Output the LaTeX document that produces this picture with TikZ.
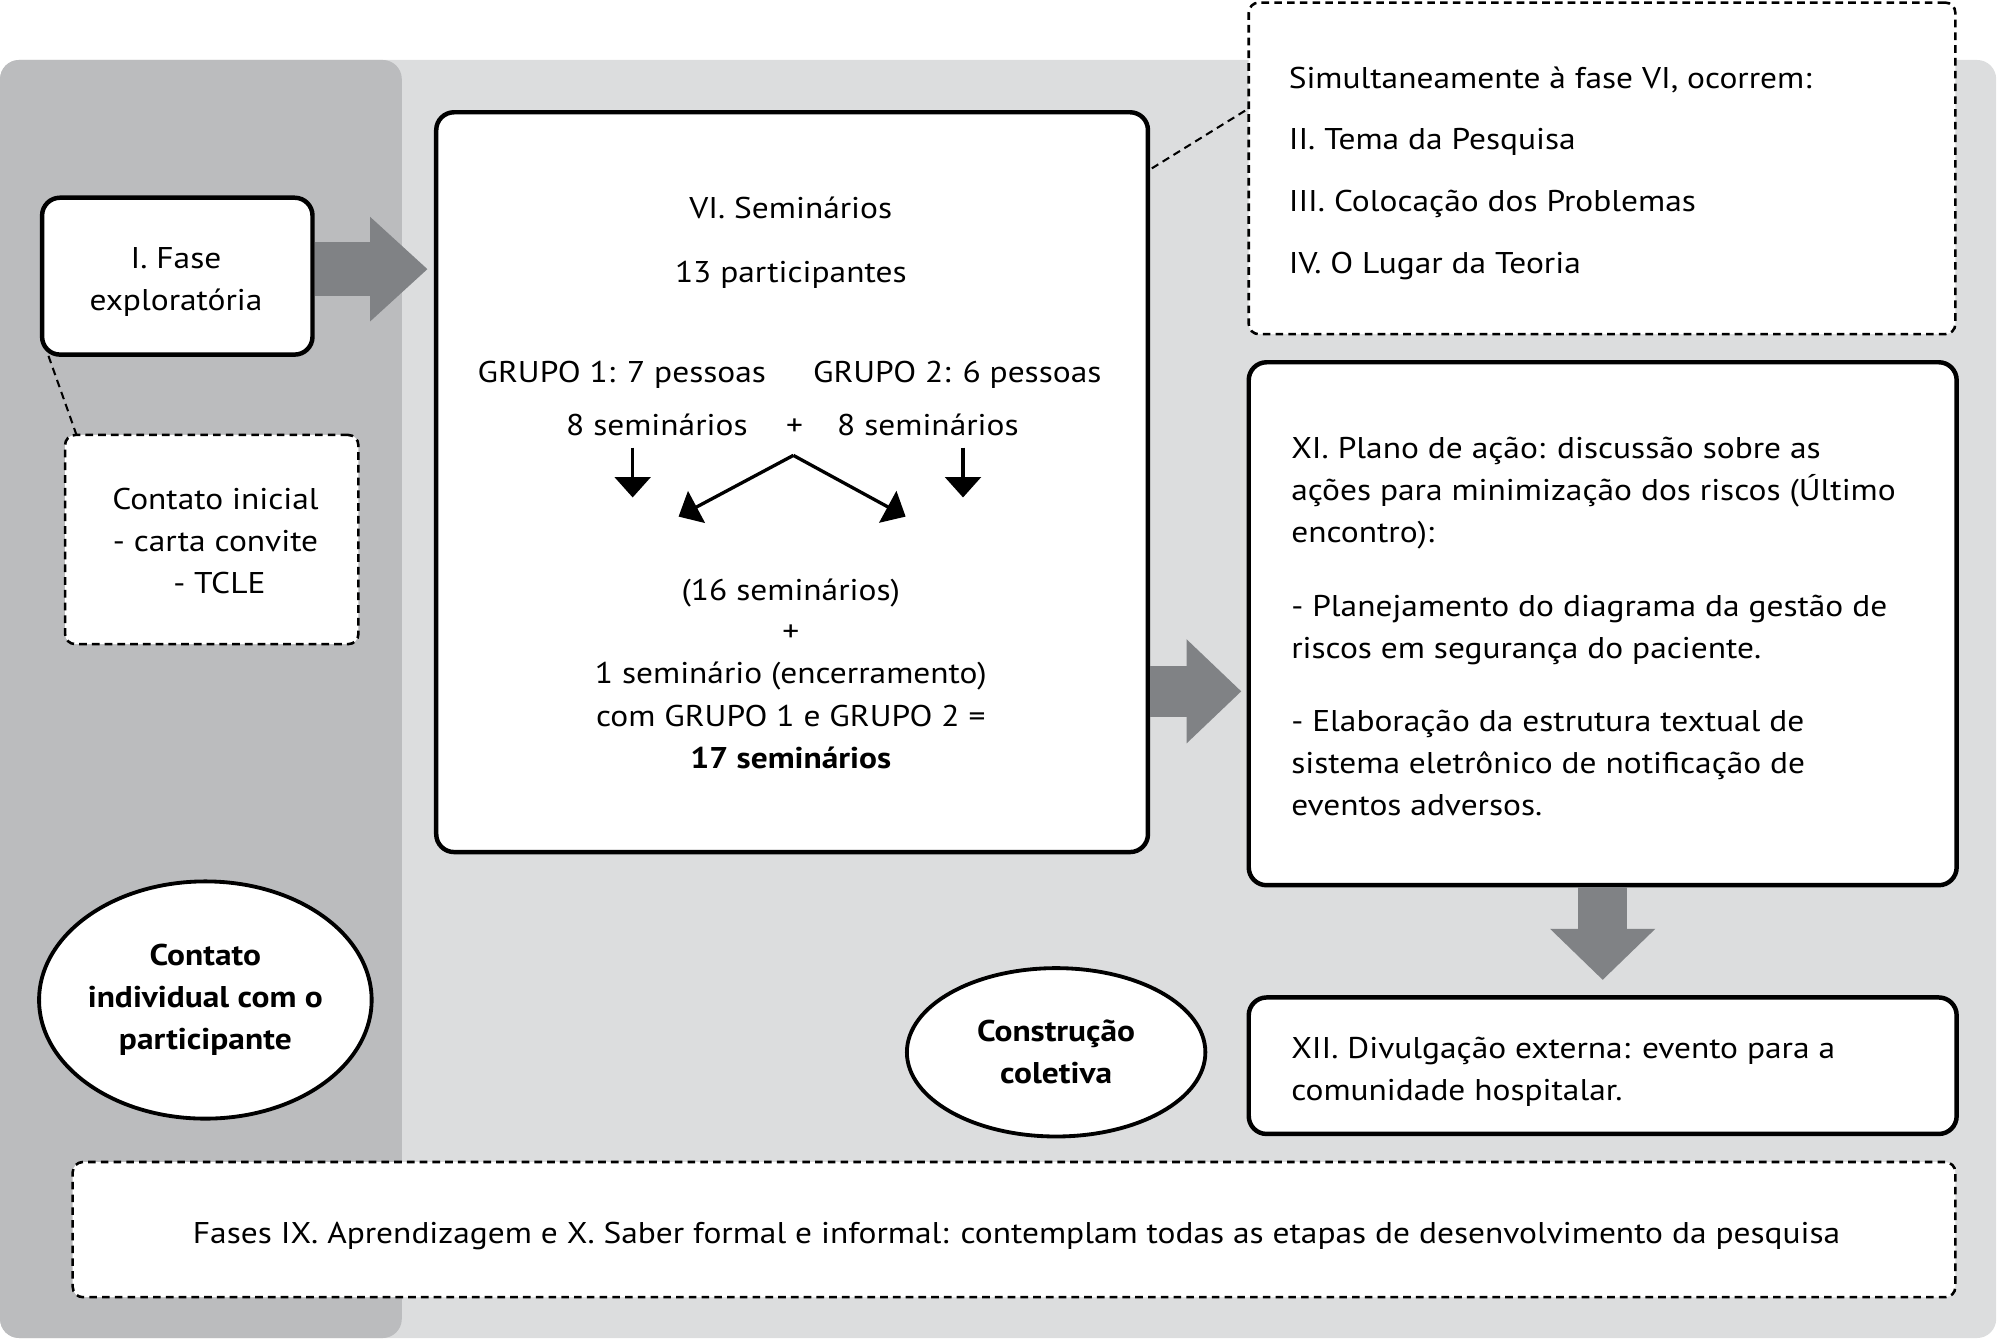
\documentclass[tikz,border=0pt]{standalone}
\usepackage{fontspec}
\setmainfont{PT Sans}[FakeStretch=1.115]
\usetikzlibrary{arrows.meta,shapes.geometric,fit,calc}
\definecolor{bglight}{HTML}{DCDDDE}
\definecolor{bgdark}{HTML}{BBBCBE}
\definecolor{arrowgray}{HTML}{808285}
\begin{document}
\begin{tikzpicture}[x=0.5pt,y=-0.5pt,
  every node/.style={font=\fontsize{11.75}{16.5}\selectfont, inner sep=0pt},
  solidbox/.style={draw=black, line width=1.75pt, rounded corners=7pt, fill=white},
  dashbox/.style={draw=black, line width=1pt, dash pattern=on 3pt off 2pt, rounded corners=4pt, fill=white},
  oval/.style={ellipse, draw=black, line width=1.5pt, fill=white, align=center, font=\fontsize{11.75}{16.5}\selectfont\bfseries},
  ct/.style={anchor=base},
  lt/.style={anchor=base west},
  blockarrow/.style={draw=arrowgray, line width=21pt, -{Triangle[length=22.5pt,width=39.5pt]}},
  blockarrowb/.style={draw=arrowgray, line width=20pt, -{Triangle[length=21.5pt,width=39.5pt]}},
  blockarrowc/.style={draw=arrowgray, line width=19pt, -{Triangle[length=20pt,width=40pt]}},
  thinarrow/.style={draw=black, line width=1.3pt, -{Triangle[length=8pt,width=14pt]}},
  dashline/.style={draw=black, line width=0.8pt, dash pattern=on 3pt off 2pt},
]
\useasboundingbox (0,0) rectangle (1568,1050.6);
% backgrounds
\fill[bglight, rounded corners=7.5pt] (0,47) rectangle (1565,1049);
\fill[bgdark, rounded corners=7.5pt] (0,47) rectangle (315,1049);

% I. Fase exploratoria
\node[solidbox, fit={(33,155) (245,278)}] (fase) {};
\node[ct] (fase1) at (138,210.5) {I. Fase};
\node[ct] (fase2) at (138,243.5) {exploratória};

% Contato inicial
\node[dashbox, fit={(51,341) (281,505)}] (ci) {};
\node[ct] (ci1) at (169,399.5) {Contato inicial};
\node[ct] (ci2) at (169,432.5) {- carta convite};
\node[ct] (ci3) at (172,465.5) {- TCLE};
\coordinate (d1a) at (38,279);
\coordinate (d1b) at (60,341);
\draw[dashline] (d1a) -- (d1b);

% ellipse left
\node[oval, minimum width=129pt, minimum height=93pt] (cip) at (161,784) {Contato\\individual com o\\participante};

% VI box
\node[solidbox, fit={(342,88) (900,668)}] (vi) {};
\node[ct] (vi1) at (620,171.5) {VI. Seminários};
\node[ct] (vi2) at (620,221.5) {13 participantes};
\node[ct] (g1) at (487.5,299.5) {GRUPO 1: 7 pessoas};
\node[ct] (g2) at (750.5,299.5) {GRUPO 2: 6 pessoas};
\node[ct] (s1) at (515,341.5) {8 seminários};
\node[ct] (plus1) at (623,341.5) {+};
\node[ct] (s2) at (727.5,341.5) {8 seminários};
\node[ct] (vi3) at (620,470.5) {(16 seminários)};
\node[ct] (plus2) at (620,503) {+};
\node[ct] (vi4) at (620,535.5) {1 seminário (encerramento)};
\node[ct] (vi5) at (620,569.5) {com GRUPO 1 e GRUPO 2 =};
\node[ct, font=\fontsize{11.75}{16.5}\selectfont\bfseries] (vi6) at (620,602.5) {17 seminários};

\coordinate (a1s) at (496,351);
\coordinate (a1e) at (496,390);
\coordinate (a2s) at (755,351);
\coordinate (a2e) at (755,390);
\coordinate (apex) at (622,357);
\coordinate (al) at (532,405);
\coordinate (ar) at (710,405);
\draw[thinarrow] (a1s) -- (a1e);
\draw[thinarrow] (a2s) -- (a2e);
\draw[thinarrow] (apex) -- (al);
\draw[thinarrow] (apex) -- (ar);

% arrow fase -> VI
\coordinate (y211) at (0,211);
\draw[blockarrow, shorten >=2.5pt] (fase.east |- y211) -- (vi.west |- y211);

% top dashed box
\node[dashbox, fit={(979,2) (1533,262)}] (sim) {};
\node[lt] (sim1) at (1010,69.5) {Simultaneamente à fase VI, ocorrem:};
\node[lt] (sim2) at (1010,117.5) {II. Tema da Pesquisa};
\node[lt] (sim3) at (1010,165.5) {III. Colocação dos Problemas};
\node[lt] (sim4) at (1010,214.5) {IV. O Lugar da Teoria};
\coordinate (d2a) at (903,132);
\coordinate (d2b) at (979,85);
\draw[dashline] (d2a) -- (d2b);

% XI box
\node[solidbox, fit={(979,284) (1534,694)}] (xi) {};
\node[lt] (xi1) at (1012,359.5) {XI. Plano de ação: discussão sobre as};
\node[lt] (xi2) at (1012,392.5) {ações para minimização dos riscos (Último};
\node[lt] (xi3) at (1012,425.5) {encontro):};
\node[lt] (xi4) at (1012,483.5) {- Planejamento do diagrama da gestão de};
\node[lt] (xi5) at (1012,516.5) {riscos em segurança do paciente.};
\node[lt] (xi6) at (1012,573.5) {- Elaboração da estrutura textual de};
\node[lt] (xi7) at (1012,606.5) {sistema eletrônico de notificação de};
\node[lt] (xi8) at (1012,639.5) {eventos adversos.};

% arrow VI -> XI
\coordinate (y542) at (0,542);
\draw[blockarrowb, shorten >=2pt] (vi.east |- y542) -- (xi.west |- y542);

% XII box
\node[solidbox, fit={(979,782) (1534,889)}] (xii) {};
\node[lt] (xii1) at (1012,829.5) {XII. Divulgação externa: evento para a};
\node[lt] (xii2) at (1012,862.5) {comunidade hospitalar.};

% arrow XI -> XII
\draw[blockarrowc, shorten >=6pt] (xi.south) -- (xii.north);

% ellipse Construcao coletiva
\node[oval, minimum width=117pt, minimum height=66pt] (cc) at (828,825) {Construção\\coletiva};

% bottom dashed box
\node[dashbox, fit={(57,911) (1533,1017)}] (fases) {};
\node[ct] (fases1) at (797,974.5) {Fases IX. Aprendizagem e X. Saber formal e informal: contemplam todas as etapas de desenvolvimento da pesquisa};
\end{tikzpicture}
\end{document}
